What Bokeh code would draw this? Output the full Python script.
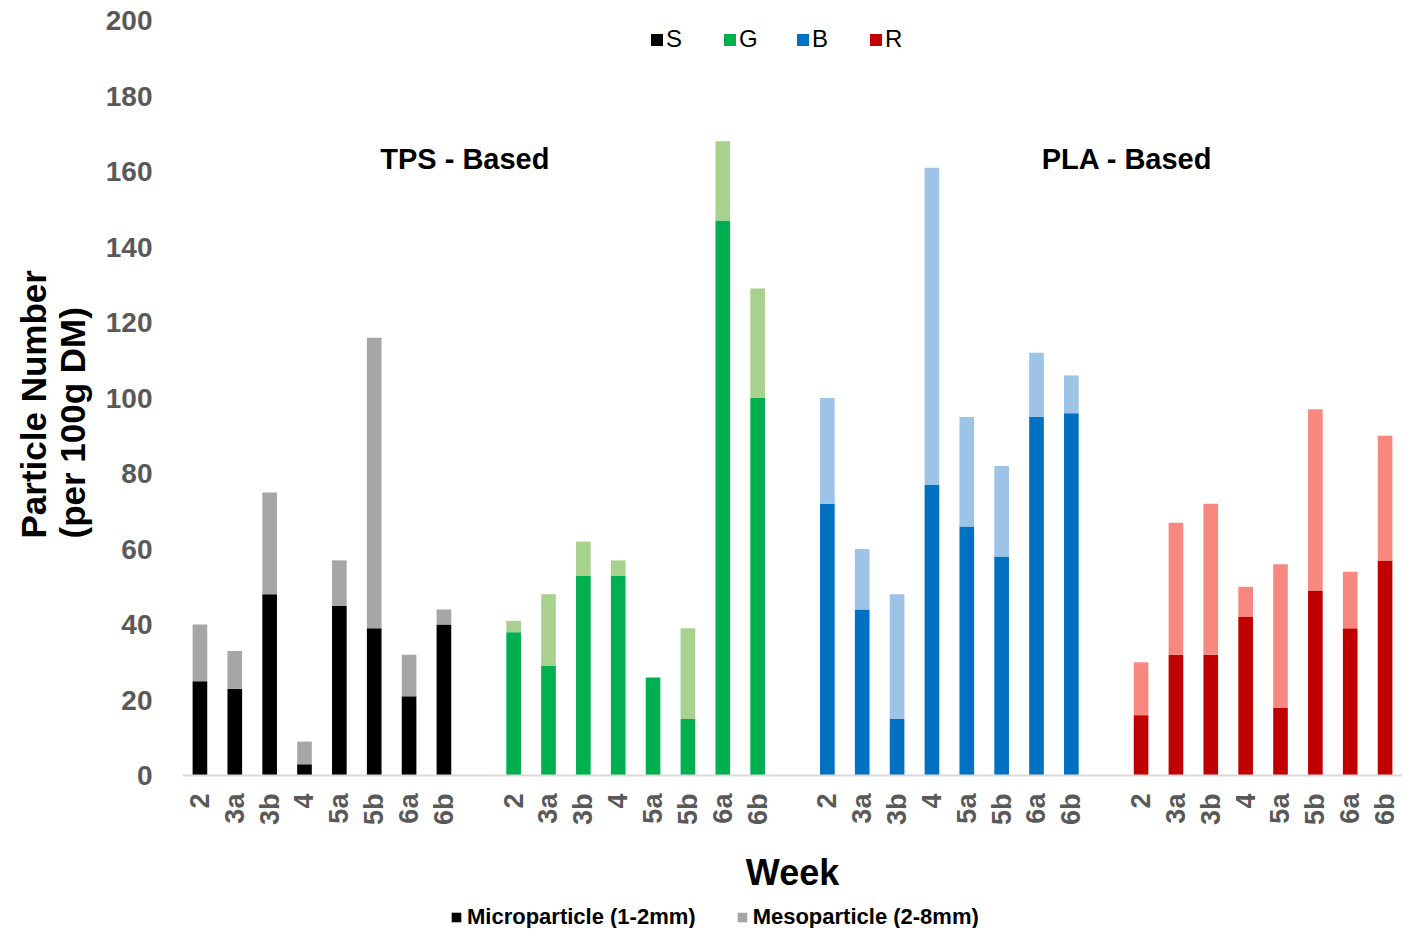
import math
from bokeh.plotting import figure
from bokeh.models import Range1d, FixedTicker, Legend, LegendItem, Label, Title, ColumnDataSource
from bokeh.embed import file_html
from bokeh.resources import INLINE

weeks = ["2", "3a", "3b", "4", "5a", "5b", "6a", "6b"]
groups = ["S", "G", "B", "R"]
micro_S = [25, 23, 48, 3, 45, 39, 21, 40]
meso_S = [15, 10, 27, 6, 12, 77, 11, 4]
micro_G = [38, 29, 53, 53, 26, 15, 147, 100]
meso_G = [3, 19, 9, 4, 0, 24, 21, 29]
micro_B = [72, 44, 15, 77, 66, 58, 95, 96]
meso_B = [28, 16, 33, 84, 29, 24, 17, 10]
micro_R = [16, 32, 32, 42, 18, 49, 39, 57]
meso_R = [14, 35, 40, 8, 38, 48, 15, 33]
y_ticks = [0, 20, 40, 60, 80, 100, 120, 140, 160, 180, 200]
size_labels = ["Microparticle (1-2mm)", "Mesoparticle (2-8mm)"]

micro = {"S": micro_S, "G": micro_G, "B": micro_B, "R": micro_R}
meso = {"S": meso_S, "G": meso_G, "B": meso_B, "R": meso_R}
dark = {"S": "#000000", "G": "#00b050", "B": "#0070c0", "R": "#c00000"}
light = {"S": "#a6a6a6", "G": "#a9d18e", "B": "#9dc3e6", "R": "#f8877f"}

FONT = "Liberation Sans"
GRAY = "#595959"

# the frame reaches the bottom of the canvas; the x axis is pinned at y = 0
p = figure(width=1402, height=928, output_backend="svg", toolbar_location=None,
           x_range=Range1d(-0.5, 34.5), y_range=Range1d(-40.5, 200),
           min_border_left=180, min_border_right=0, min_border_top=20,
           min_border_bottom=0)
p.outline_line_color = None
p.xgrid.visible = False
p.ygrid.visible = False
p.background_fill_color = "white"

renderers = {}
tick_pos = []
overrides = {}
for gi, g in enumerate(groups):
    xs = [gi * 9 + i for i in range(len(weeks))]
    for x, w in zip(xs, weeks):
        tick_pos.append(x)
        overrides[x] = w
    lo = micro[g]
    hi = [a + b for a, b in zip(micro[g], meso[g])]
    src = ColumnDataSource(dict(x=xs, micro=lo, total=hi))
    r1 = p.vbar(x="x", bottom=0, top="micro", width=0.42, source=src,
                fill_color=dark[g], line_color=None)
    r2 = p.vbar(x="x", bottom="micro", top="total", width=0.42, source=src,
                fill_color=light[g], line_color=None)
    renderers[g] = (r1, r2)

# x axis
xa = p.xaxis[0]
xa.fixed_location = 0
xa.ticker = FixedTicker(ticks=tick_pos)
xa.major_label_overrides = overrides
xa.major_label_orientation = math.pi / 2
xa.major_label_text_font = FONT
xa.major_label_text_font_style = "bold"
xa.major_label_text_font_size = "27px"
xa.major_label_text_color = GRAY
xa.major_label_standoff = 12
xa.major_tick_line_color = None
xa.minor_tick_line_color = None
xa.axis_line_color = "#d9d9d9"
xa.axis_line_width = 2
xa.axis_label = "Week"
xa.axis_label_text_font = FONT
xa.axis_label_text_font_style = "bold"
xa.axis_label_text_font_size = "36px"
xa.axis_label_text_color = "#000000"
xa.axis_label_standoff = 24

# y axis
ya = p.yaxis[0]
ya.ticker = FixedTicker(ticks=y_ticks)
ya.major_label_text_font = FONT
ya.major_label_text_font_style = "bold"
ya.major_label_text_font_size = "28px"
ya.major_label_text_color = GRAY
ya.major_label_standoff = 24
ya.major_tick_line_color = None
ya.minor_tick_line_color = None
ya.axis_line_color = None

# y axis title, as a left-side title anchored at the bottom and shifted up
ytitle = Title(text="Particle Number\n(per 100g DM)", align="left", offset=390,
               text_font=FONT, text_font_style="bold", text_font_size="35px",
               text_color="#000000", standoff=22)
p.add_layout(ytitle, "left")

# group titles
for txt, xv in [("TPS - Based", 7.6), ("PLA - Based", 26.6)]:
    p.add_layout(Label(x=xv, y=163.4, text=txt, text_align="center",
                       text_baseline="middle", text_font=FONT,
                       text_font_style="bold", text_font_size="29px",
                       text_color="#000000"))

# top legend
top_items = [LegendItem(label=g, renderers=[renderers[g][0]]) for g in groups]
leg_top = Legend(items=top_items, orientation="horizontal", location=(467, 875),
                 glyph_width=15, glyph_height=15, label_standoff=2, spacing=36,
                 padding=0, margin=0, border_line_color=None,
                 background_fill_alpha=0, label_text_font=FONT,
                 label_text_font_size="24px", label_text_color="#000000")
p.add_layout(leg_top, "center")

# bottom legend
bot_items = [LegendItem(label=size_labels[0], renderers=[renderers["S"][0]]),
             LegendItem(label=size_labels[1], renderers=[renderers["S"][1]])]
leg_bot = Legend(items=bot_items, orientation="horizontal", location=(268, -2),
                 glyph_width=12, glyph_height=12, label_standoff=5, spacing=40,
                 padding=0, margin=0, border_line_color=None,
                 background_fill_alpha=0, label_text_font=FONT,
                 label_text_font_style="bold",
                 label_text_font_size="22px", label_text_color="#000000")
p.add_layout(leg_bot, "center")

open("out.html", "w").write(file_html(p, INLINE))
